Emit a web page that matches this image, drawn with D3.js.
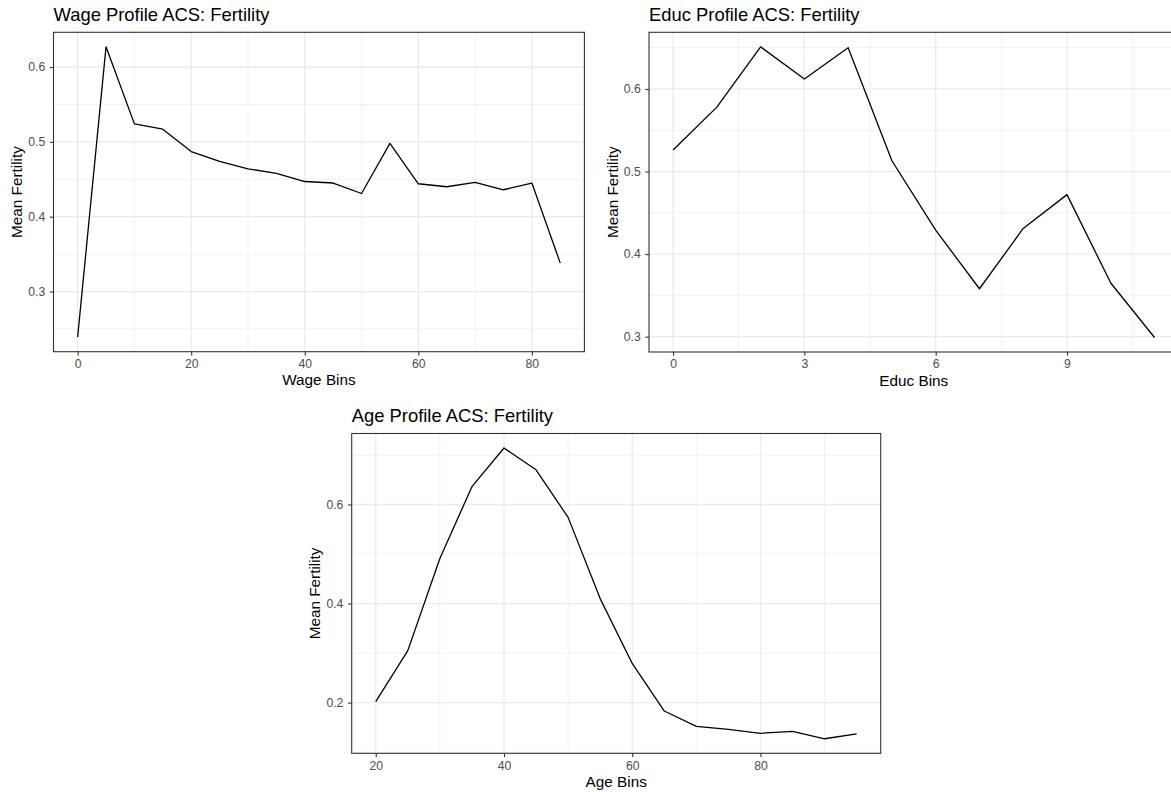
<!DOCTYPE html>
<html>
<head>
<meta charset="utf-8">
<script src="https://cdn.jsdelivr.net/npm/d3@7"></script>
<style>
  body { margin: 0; background: #fff; }
  text { font-family: "Liberation Sans", Arial, Helvetica, sans-serif; }
</style>
</head>
<body>
<script>
// values
var wageBins = [0, 5, 10, 15, 20, 25, 30, 35, 40, 45, 50, 55, 60, 65, 70, 75, 80, 85];
var wageFert = [0.239, 0.627, 0.524, 0.517, 0.487, 0.474, 0.464, 0.458, 0.447, 0.445, 0.431, 0.498, 0.444, 0.440, 0.446, 0.436, 0.445, 0.338];
var wageXTicks = [0, 20, 40, 60, 80];
var wageXMinor = [10, 30, 50, 70];
var wageYTicks = [0.3, 0.4, 0.5, 0.6];
var wageYMinor = [0.25, 0.35, 0.45, 0.55, 0.65];

var educBins = [0, 1, 2, 3, 4, 5, 6, 7, 8, 9, 10, 11];
var educFert = [0.526, 0.578, 0.651, 0.612, 0.650, 0.513, 0.429, 0.358, 0.431, 0.472, 0.365, 0.299];
var educXTicks = [0, 3, 6, 9];
var educXMinor = [1.5, 4.5, 7.5, 10.5];
var educYTicks = [0.3, 0.4, 0.5, 0.6];
var educYMinor = [0.25, 0.35, 0.45, 0.55, 0.65];

var ageBins = [20, 25, 30, 35, 40, 45, 50, 55, 60, 65, 70, 75, 80, 85, 90, 95];
var ageFert = [0.202, 0.305, 0.491, 0.636, 0.714, 0.670, 0.574, 0.410, 0.279, 0.183, 0.152, 0.146, 0.138, 0.142, 0.127, 0.137];
var ageXTicks = [20, 40, 60, 80];
var ageXMinor = [30, 50, 70, 90];
var ageYTicks = [0.2, 0.4, 0.6];
var ageYMinor = [0.1, 0.3, 0.5, 0.7];

var W = 1171, H = 792;
var svg = d3.select("body").append("svg").attr("width", W).attr("height", H);
svg.append("rect").attr("width", W).attr("height", H).attr("fill", "#fff");

// ggplot-like 5% expansion
function expand(ext) {
  var d = (ext[1] - ext[0]) * 0.05;
  return [ext[0] - d, ext[1] + d];
}

function drawPanel(p) {
  var x = d3.scaleLinear().domain(expand(d3.extent(p.xs))).range([p.left, p.right]);
  var y = d3.scaleLinear().domain(expand(d3.extent(p.ys))).range([p.bottom, p.top]);
  var g = svg.append("g");

  var inX = function (v) { return v >= x.domain()[0] && v <= x.domain()[1]; };
  var inY = function (v) { return v >= y.domain()[0] && v <= y.domain()[1]; };

  // minor grid
  g.selectAll(".mx").data(p.xMinor.filter(inX)).enter().append("line")
    .attr("x1", x).attr("x2", x).attr("y1", p.top).attr("y2", p.bottom)
    .attr("stroke", "#ebebeb").attr("stroke-width", 0.7);
  g.selectAll(".my").data(p.yMinor.filter(inY)).enter().append("line")
    .attr("y1", y).attr("y2", y).attr("x1", p.left).attr("x2", p.right)
    .attr("stroke", "#ebebeb").attr("stroke-width", 0.7);
  // major grid
  g.selectAll(".gx").data(p.xTicks).enter().append("line")
    .attr("x1", x).attr("x2", x).attr("y1", p.top).attr("y2", p.bottom)
    .attr("stroke", "#ebebeb").attr("stroke-width", 1.3);
  g.selectAll(".gy").data(p.yTicks).enter().append("line")
    .attr("y1", y).attr("y2", y).attr("x1", p.left).attr("x2", p.right)
    .attr("stroke", "#ebebeb").attr("stroke-width", 1.3);

  var line = d3.line()
    .x(function (d) { return x(d[0]); })
    .y(function (d) { return y(d[1]); });
  g.append("path")
    .datum(d3.zip(p.xs, p.ys))
    .attr("d", line)
    .attr("fill", "none")
    .attr("stroke", "#000")
    .attr("stroke-width", 1.3)
    .attr("stroke-linejoin", "round");

  g.append("rect")
    .attr("x", p.left).attr("y", p.top)
    .attr("width", p.right - p.left).attr("height", p.bottom - p.top)
    .attr("fill", "none").attr("stroke", "#333").attr("stroke-width", 1.1);

  var ax = g.append("g").attr("transform", "translate(0," + p.bottom + ")")
    .call(d3.axisBottom(x).tickValues(p.xTicks).tickSize(3.7).tickPadding(3.9)
      .tickFormat(d3.format("d")));
  var ay = g.append("g").attr("transform", "translate(" + p.left + ",0)")
    .call(d3.axisLeft(y).tickValues(p.yTicks).tickSize(3.7).tickPadding(4.6)
      .tickFormat(d3.format(".1f")));
  [ax, ay].forEach(function (a) {
    a.select(".domain").remove();
    a.selectAll("line").attr("stroke", "#333").attr("stroke-width", 1.1);
    a.selectAll("text").attr("fill", "#4d4d4d")
      .style("font-family", "'Liberation Sans', Arial, sans-serif")
      .style("font-size", "12.2px");
  });

  g.append("text")
    .attr("x", p.left).attr("y", p.top - 11.5)
    .style("font-size", "18.4px").attr("fill", "#000")
    .text(p.title);
  g.append("text")
    .attr("x", (p.left + p.right) / 2).attr("y", p.bottom + 33.5)
    .attr("text-anchor", "middle")
    .style("font-size", "15.3px").attr("fill", "#000")
    .text(p.xLabel);
  g.append("text")
    .attr("transform", "translate(" + (p.left - 31.5) + "," + (p.top + p.bottom) / 2 + ") rotate(-90)")
    .attr("text-anchor", "middle")
    .style("font-size", "15.3px").attr("fill", "#000")
    .text("Mean Fertility");
}

drawPanel({
  title: "Wage Profile ACS: Fertility", xLabel: "Wage Bins",
  xs: wageBins, ys: wageFert,
  xTicks: wageXTicks, xMinor: wageXMinor, yTicks: wageYTicks, yMinor: wageYMinor,
  left: 53.5, right: 584.4, top: 32.3, bottom: 351.7
});
drawPanel({
  title: "Educ Profile ACS: Fertility", xLabel: "Educ Bins",
  xs: educBins, ys: educFert,
  xTicks: educXTicks, xMinor: educXMinor, yTicks: educYTicks, yMinor: educYMinor,
  left: 649, right: 1178.6, top: 32.3, bottom: 352
});
drawPanel({
  title: "Age Profile ACS: Fertility", xLabel: "Age Bins",
  xs: ageBins, ys: ageFert,
  xTicks: ageXTicks, xMinor: ageXMinor, yTicks: ageYTicks, yMinor: ageYMinor,
  left: 351.7, right: 880.7, top: 433.5, bottom: 753.3
});
</script>
</body>
</html>
